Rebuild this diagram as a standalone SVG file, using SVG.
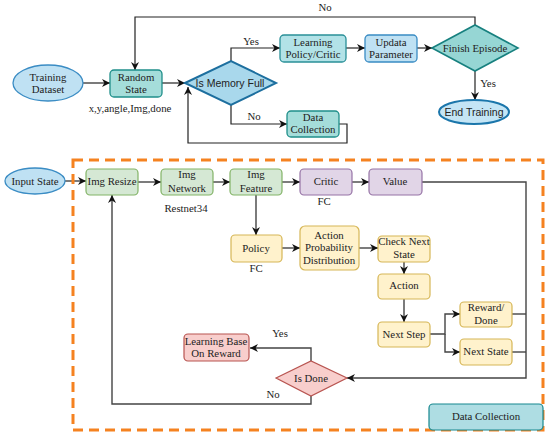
<svg xmlns="http://www.w3.org/2000/svg" width="550" height="438" viewBox="0 0 550 438" font-family="'Liberation Serif', 'Times New Roman', serif">
<defs>
<marker id="ah" viewBox="0 0 10 10" refX="10" refY="5" markerWidth="8" markerHeight="8" markerUnits="userSpaceOnUse" orient="auto">
<path d="M0,0 L10,5 L0,10 L3,5 z" fill="#111"/>
</marker>
</defs>
<style>
text{font-family:'Liberation Serif','Times New Roman',serif;font-size:10.8px;fill:#222;text-anchor:middle}
text.sans{font-family:'Liberation Sans',Arial,sans-serif;font-size:10.5px}
.c{fill:none;stroke:#222;stroke-width:1.2}
.cg{fill:none;stroke:#444;stroke-width:1.4}
.a{marker-end:url(#ah)}
.blue{fill:#bfe1f3;stroke:#3a8cc4;stroke-width:1.3}
.teal{fill:#a5ddda;stroke:#1f8f8a;stroke-width:1.3}
.teal2{fill:#b2e2e7;stroke:#2a9098;stroke-width:1.3}
.green{fill:#d5e8d4;stroke:#82b366;stroke-width:1.2}
.purple{fill:#e1d5e7;stroke:#9673a6;stroke-width:1.2}
.yellow{fill:#fff2cc;stroke:#d6b656;stroke-width:1.2}
.red{fill:#f8cecc;stroke:#b85450;stroke-width:1.2}
</style>
<rect width="550" height="438" fill="#fff"/>
<g id="connectors">
<path class="c a" d="M83,83 H110"/>
<path class="c a" d="M162,83 H185"/>
<path class="c a" d="M231,61 V48 H280"/>
<path class="c a" d="M231,104 V124 H287"/>
<path class="c a" d="M339,124 H347 V143 H188 V87"/>
<path class="c a" d="M346,48 H365"/>
<path class="c a" d="M417,48 H432"/>
<path class="c a" d="M475,25 V17 H135 V70"/>
<path class="c a" d="M475,71 V100"/>
<path class="cg a" d="M65,181 H86"/>
<path class="cg a" d="M138,182 H161"/>
<path class="cg a" d="M213,182 H230"/>
<path class="cg a" d="M282,182 H300"/>
<path class="cg a" d="M352,182 H369"/>
<path class="cg a" d="M256,195 V235"/>
<path class="cg a" d="M282,248 H300"/>
<path class="cg a" d="M359,248 H378"/>
<path class="cg a" d="M404,262 V274"/>
<path class="cg a" d="M404,299 V322"/>
<path class="cg a" d="M430,334 H445 V314 H460"/>
<path class="cg a" d="M445,334 V352 H460"/>
<path class="cg" d="M512,314 H526"/>
<path class="cg" d="M512,352 H526"/>
<path class="cg a" d="M422,182 H526 V378 H347"/>
<path class="cg a" d="M311,361 V348 H250"/>
<path class="cg a" d="M311,396 V404 H112 V195"/>
</g>
<g id="labels">
<text x="325" y="11">No</text>
<text x="251" y="45">Yes</text>
<text x="254" y="120">No</text>
<text x="488" y="87">Yes</text>
<text x="280" y="337">Yes</text>
<text x="273" y="398">No</text>
<text x="130" y="112">x,y,angle,Img,done</text>
<text x="186" y="212">Restnet34</text>
<text x="324" y="205">FC</text>
<text x="256" y="272">FC</text>
</g>
<rect id="region" x="73" y="160" width="470" height="270" fill="none" stroke="#f58220" stroke-width="3" stroke-dasharray="10 6"/>
<g id="training-dataset"><ellipse cx="48" cy="83" rx="35" ry="18" class="blue"/><text x="48" y="81">Training</text><text x="48" y="93">Dataset</text></g>
<g id="random-state"><rect x="110" y="70" width="52" height="27" rx="4" class="teal"/><text x="136" y="81">Random</text><text x="136" y="93">State</text></g>
<g id="is-memory-full"><polygon points="185,83 231,61 276,83 231,105" fill="#a9d8ec" stroke="#1d6f9f" stroke-width="2"/><text class="sans" x="230" y="87">Is Memory Full</text></g>
<g id="learning-policy"><rect x="280" y="35" width="66" height="27" rx="4" class="teal2"/><text x="313" y="46">Learning</text><text x="313" y="58">Policy/Critic</text></g>
<g id="updata-parameter"><rect x="365" y="35" width="52" height="27" rx="4" class="blue"/><text x="391" y="46">Updata</text><text x="391" y="58">Parameter</text></g>
<g id="finish-episode"><polygon points="432,48 475,25 518,48 475,71" fill="#96d6d4" stroke="#17807f" stroke-width="1.6"/><text x="475" y="52">Finish Episode</text></g>
<g id="end-training"><ellipse cx="474" cy="112" rx="35" ry="12" fill="#c4e5f5" stroke="#1b76ab" stroke-width="2"/><text class="sans" x="474" y="116">End Training</text></g>
<g id="data-collection-top"><rect x="287" y="111" width="52" height="26" rx="4" class="teal"/><text x="313" y="121">Data</text><text x="313" y="133">Collection</text></g>
<g id="input-state"><ellipse cx="35" cy="181" rx="30" ry="13" class="blue"/><text x="35" y="185">Input State</text></g>
<g id="img-resize"><rect x="86" y="169" width="52" height="26" rx="4" class="green"/><text x="112" y="185">Img Resize</text></g>
<g id="img-network"><rect x="161" y="169" width="52" height="26" rx="4" class="green"/><text x="187" y="178">Img</text><text x="187" y="192">Network</text></g>
<g id="img-feature"><rect x="230" y="169" width="52" height="26" rx="4" class="green"/><text x="256" y="178">Img</text><text x="256" y="192">Feature</text></g>
<g id="critic"><rect x="300" y="169" width="52" height="26" rx="4" class="purple"/><text x="326" y="185">Critic</text></g>
<g id="value"><rect x="369" y="169" width="53" height="26" rx="4" class="purple"/><text x="395" y="185">Value</text></g>
<g id="policy"><rect x="231" y="235" width="51" height="27" rx="4" class="yellow"/><text x="256" y="252">Policy</text></g>
<g id="action-prob"><rect x="300" y="226" width="59" height="44" rx="5" class="yellow"/><text x="329" y="239">Action</text><text x="329" y="251">Probability</text><text x="329" y="264">Distribution</text></g>
<g id="check-next-state"><rect x="378" y="236" width="52" height="26" rx="4" class="yellow"/><text x="404" y="245">Check Next</text><text x="404" y="258">State</text></g>
<g id="action"><rect x="378" y="274" width="52" height="25" rx="4" class="yellow"/><text x="404" y="289">Action</text></g>
<g id="next-step"><rect x="378" y="322" width="52" height="25" rx="4" class="yellow"/><text x="404" y="338">Next Step</text></g>
<g id="reward-done"><rect x="460" y="302" width="52" height="25" rx="4" class="yellow"/><text x="486" y="311">Reward/</text><text x="486" y="324">Done</text></g>
<g id="next-state"><rect x="460" y="339" width="52" height="26" rx="4" class="yellow"/><text x="486" y="355">Next State</text></g>
<g id="is-done"><polygon points="276,378 311,361 347,378 311,396" class="red"/><text x="311" y="382">Is Done</text></g>
<g id="learning-base"><rect x="184" y="334" width="65" height="27" rx="4" class="red"/><text x="216" y="345">Learning Base</text><text x="216" y="357">On Reward</text></g>
<g id="data-collection-label"><rect x="429" y="404" width="114" height="26" rx="4" fill="#aedde3" stroke="#17888f" stroke-width="1.2"/><text x="486" y="420">Data Collection</text></g>
</svg>
